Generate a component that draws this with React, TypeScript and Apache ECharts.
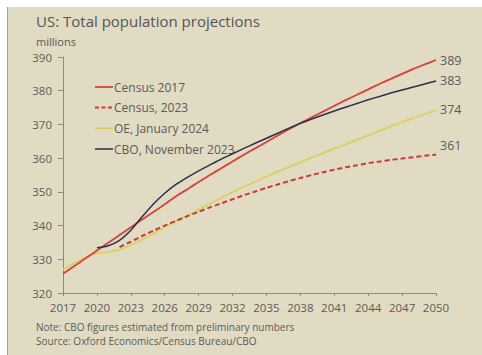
import React, { useEffect, useRef } from "react";
import * as echarts from "echarts";

const years = [
  "2017", "2018", "2019", "2020", "2021", "2022", "2023", "2024", "2025", "2026",
  "2027", "2028", "2029", "2030", "2031", "2032", "2033", "2034", "2035", "2036",
  "2037", "2038", "2039", "2040", "2041", "2042", "2043", "2044", "2045", "2046",
  "2047", "2048", "2049", "2050",
];

const census2017 = [
  325.7, 328.0, 330.3, 332.6, 334.9, 337.2, 339.5, 341.8, 344.0, 346.3,
  348.7, 350.8, 352.9, 355.0, 357.0, 359.0, 361.0, 362.9, 364.8, 366.7,
  368.6, 370.4, 372.1, 373.8, 375.5, 377.2, 378.8, 380.4, 382.0, 383.5,
  385.0, 386.5, 387.8, 389.1,
];

const census2023 = [
  null, null, null, null, null, 333.6, 335.2, 336.9, 338.5, 340.0,
  341.4, 342.8, 344.1, 345.4, 346.6, 347.8, 349.0, 350.1, 351.2, 352.2,
  353.2, 354.1, 355.0, 355.8, 356.6, 357.3, 357.9, 358.5, 359.0, 359.5,
  359.9, 360.3, 360.7, 361.0,
];

const oeJan2024 = [
  327.0, 328.8, 330.6, 331.8, 332.2, 332.8, 334.2, 335.9, 337.6, 339.6,
  341.3, 343.0, 344.8, 346.5, 348.2, 349.9, 351.5, 353.0, 354.5, 356.0,
  357.4, 358.8, 360.2, 361.5, 362.8, 364.1, 365.4, 366.8, 368.1, 369.4,
  370.7, 371.9, 373.1, 374.3,
];

const cboNov2023 = [
  null, null, null, 333.4, 334.0, 335.6, 338.6, 342.6, 346.4, 349.6,
  352.2, 354.3, 356.2, 358.0, 359.7, 361.3, 362.9, 364.4, 365.9, 367.4,
  368.9, 370.3, 371.6, 372.8, 374.0, 375.1, 376.2, 377.3, 378.3, 379.3,
  380.2, 381.1, 382.0, 382.9,
];

const seriesNames = ["Census 2017", "Census, 2023", "OE, January 2024", "CBO, November 2023"];
const seriesColors = ["#d8403a", "#c83a38", "#dbd15a", "#2c2e4c"];
const titleText = "US: Total population projections";
const unitText = "millions";
const noteText = "Note: CBO figures estimated from preliminary numbers";
const sourceText = "Source: Oxford Economics/Census Bureau/CBO";

const FONT = "'Open Sans', 'Noto Sans', sans-serif";
const TXT = "#5a5a5a";
const AXIS = "#8e8a7e";

export default function App() {
  const ref = useRef<HTMLDivElement>(null);

  useEffect(() => {
    document.body.style.margin = "0";
    if (!ref.current) return;
    const chart = echarts.init(ref.current, undefined, { renderer: "svg" });

    const endLabel = (offsetY: number) => ({
      show: true,
      distance: 4,
      offset: [0, offsetY],
      fontSize: 12.5,
      color: TXT,
      fontFamily: FONT,
      formatter: (p: any) => String(Math.round(Number(p.value))),
    });

    const legendY = [87, 107.5, 128.3, 149];
    const legendGraphics: any[] = [];
    seriesNames.forEach((name, i) => {
      legendGraphics.push({
        type: "line",
        shape: { x1: 95, y1: legendY[i], x2: 113, y2: legendY[i] },
        style: {
          stroke: seriesColors[i],
          lineWidth: i === 1 ? 2 : i === 3 ? 1.5 : 1.8,
          lineDash: i === 1 ? [4, 2.5] : null,
        },
      });
      legendGraphics.push({
        type: "text",
        x: 114,
        y: legendY[i],
        style: {
          text: name,
          fontSize: 12,
          fill: TXT,
          fontFamily: FONT,
          textVerticalAlign: "middle",
          verticalAlign: "middle",
        },
      });
    });

    chart.setOption({
      animation: false,
      backgroundColor: "transparent",
      textStyle: { fontFamily: FONT },
      grid: { left: 63, right: 46, top: 57, bottom: 62, containLabel: false },
      xAxis: {
        type: "category",
        data: years,
        boundaryGap: false,
        axisLine: { show: true, lineStyle: { color: AXIS, width: 1 } },
        axisTick: { show: true, interval: 2, length: 3, lineStyle: { color: AXIS } },
        axisLabel: { interval: 2, fontSize: 11.5, color: TXT, margin: 8, fontFamily: FONT },
        splitLine: { show: false },
      },
      yAxis: {
        type: "value",
        min: 320,
        max: 390,
        interval: 10,
        axisLine: { show: true, lineStyle: { color: AXIS, width: 1 } },
        axisTick: { show: true, length: 5, lineStyle: { color: AXIS } },
        axisLabel: { fontSize: 11.5, color: TXT, margin: 11, fontFamily: FONT },
        splitLine: { show: false },
      },
      series: [
        {
          name: seriesNames[0],
          type: "line",
          data: census2017,
          symbol: "none",
          smooth: 0.2,
          lineStyle: { color: seriesColors[0], width: 1.8 },
          itemStyle: { color: seriesColors[0] },
          endLabel: endLabel(0),
          z: 3,
        },
        {
          name: seriesNames[1],
          type: "line",
          data: census2023,
          symbol: "none",
          smooth: 0.2,
          lineStyle: { color: seriesColors[1], width: 2, type: [5, 3] },
          itemStyle: { color: seriesColors[1] },
          endLabel: endLabel(-9),
          z: 4,
        },
        {
          name: seriesNames[2],
          type: "line",
          data: oeJan2024,
          symbol: "none",
          smooth: 0.2,
          lineStyle: { color: seriesColors[2], width: 1.8 },
          itemStyle: { color: seriesColors[2] },
          endLabel: endLabel(0),
          z: 2,
        },
        {
          name: seriesNames[3],
          type: "line",
          data: cboNov2023,
          symbol: "none",
          smooth: 0.2,
          lineStyle: { color: seriesColors[3], width: 1.5 },
          itemStyle: { color: seriesColors[3] },
          endLabel: endLabel(0),
          z: 3,
        },
      ],
      graphic: [
        {
          type: "text",
          left: 36,
          top: 13,
          style: { text: titleText, fontSize: 15, fill: "#555", fontFamily: FONT },
        },
        {
          type: "text",
          left: 36,
          top: 36,
          style: { text: unitText, fontSize: 11, fill: TXT, fontFamily: FONT },
        },
        {
          type: "text",
          left: 36,
          top: 322,
          style: { text: noteText, fontSize: 10, fill: TXT, fontFamily: FONT },
        },
        {
          type: "text",
          left: 36,
          top: 336,
          style: { text: sourceText, fontSize: 10, fill: TXT, fontFamily: FONT },
        },
        ...legendGraphics,
      ],
    });

    return () => chart.dispose();
  }, []);

  return (
    <div style={{ position: "relative", width: 482, height: 355, background: "#ffffff", overflow: "hidden" }}>
      <div
        style={{
          position: "absolute",
          left: 7,
          top: 7,
          right: 0,
          bottom: 0,
          background: "#e1dbc4",
          borderLeft: "1px solid #a9a393",
        }}
      />
      <div ref={ref} style={{ position: "absolute", left: 0, top: 0, width: 482, height: 355 }} />
    </div>
  );
}
